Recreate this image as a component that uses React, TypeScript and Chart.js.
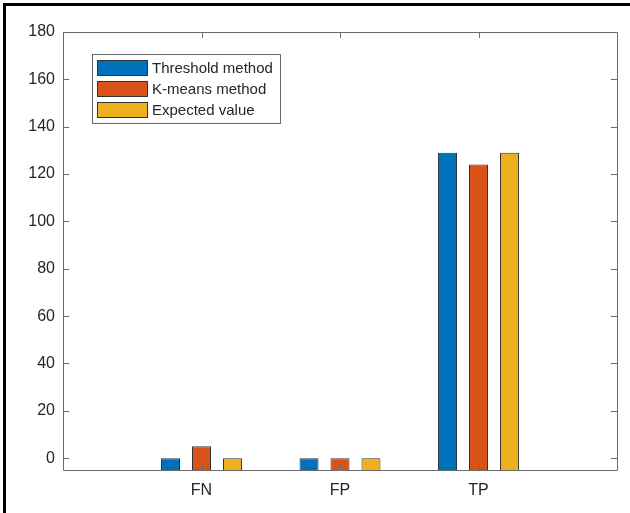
import React, { useEffect, useRef } from "react";
import { Chart, registerables } from "chart.js";

Chart.register(...registerables);

const categories = ["", "FN", "FP", "TP", ""];
const seriesNames = ["Threshold method", "K-means method", "Expected value"];
const thresholdValues = [null, 0, 0, 129, null];
const kmeansValues = [null, 5, 0, 124, null];
const expectedValues = [null, 0, 0, 129, null];
const seriesColors = ["#0072BD", "#D95319", "#EDB120"];
const yTicks = [0, 20, 40, 60, 80, 100, 120, 140, 160, 180];
const yMin = -5;
const yMax = 180;

const FONT = "'Liberation Sans', Arial, Helvetica, sans-serif";
const AXIS_COLOR = "#6a6a6a";
const TEXT_COLOR = "#262626";
const EDGE_COLOR = "#333333";

const framePlugin = {
  id: "frame",
  beforeDraw(chart: any) {
    const ctx = chart.ctx;
    ctx.save();
    ctx.fillStyle = "#ffffff";
    ctx.fillRect(0, 0, chart.width, chart.height);
    ctx.fillStyle = "#000000";
    ctx.fillRect(3, 3, chart.width - 3, 3);
    ctx.fillRect(3, 3, 3, chart.height - 3);
    ctx.restore();
  },
  afterDatasetsDraw(chart: any) {
    const ctx = chart.ctx;
    const { left, right, top, bottom } = chart.chartArea;
    const xs = chart.scales.x;
    const ys = chart.scales.y;
    const tl = 6;
    ctx.save();
    ctx.strokeStyle = AXIS_COLOR;
    ctx.lineWidth = 1;
    ctx.beginPath();
    ctx.rect(Math.round(left) + 0.5, Math.round(top) + 0.5, Math.round(right - left), Math.round(bottom - top));
    ctx.stroke();
    ctx.beginPath();
    yTicks.forEach((v) => {
      const y = Math.round(ys.getPixelForValue(v)) + 0.5;
      ctx.moveTo(left, y);
      ctx.lineTo(left + tl, y);
      ctx.moveTo(right, y);
      ctx.lineTo(right - tl, y);
    });
    categories.forEach((c, i) => {
      if (!c) return;
      const x = Math.round(xs.getPixelForValue(i)) + 0.5;
      ctx.moveTo(x, bottom);
      ctx.lineTo(x, bottom - tl);
      ctx.moveTo(x, top);
      ctx.lineTo(x, top + tl);
    });
    ctx.stroke();

    // legend
    const bx = left + 29;
    const by = top + 22;
    const bw = 188;
    const bh = 69;
    ctx.fillStyle = "#ffffff";
    ctx.fillRect(bx, by, bw, bh);
    ctx.strokeStyle = AXIS_COLOR;
    ctx.strokeRect(bx + 0.5, by + 0.5, bw, bh);
    ctx.font = `15px ${FONT}`;
    ctx.textBaseline = "middle";
    ctx.textAlign = "left";
    chart.data.datasets.forEach((ds: any, i: number) => {
      const py = by + 6 + i * 21;
      ctx.fillStyle = ds.backgroundColor;
      ctx.fillRect(bx + 5, py, 51, 16);
      ctx.strokeStyle = EDGE_COLOR;
      ctx.strokeRect(bx + 5.5, py + 0.5, 50, 15);
      ctx.fillStyle = TEXT_COLOR;
      ctx.fillText(ds.label, bx + 60, py + 8.5);
    });
    ctx.restore();
  },
};

export default function App() {
  const ref = useRef<HTMLCanvasElement | null>(null);
  useEffect(() => {
    document.body.style.margin = "0";
    const canvas = ref.current!;
    const values = [thresholdValues, kmeansValues, expectedValues];
    const chart = new Chart(canvas, {
      type: "bar",
      data: {
        labels: categories,
        datasets: seriesNames.map((name, i) => ({
          label: name,
          data: values[i],
          backgroundColor: seriesColors[i],
          borderColor: EDGE_COLOR,
          borderWidth: 1,
          borderSkipped: "start",
          base: yMin,
          categoryPercentage: 0.671,
          barPercentage: 0.613,
        })) as any,
      },
      options: {
        responsive: false,
        animation: false,
        events: [],
        layout: { padding: { left: 8, top: 32, right: 13, bottom: 0 } },
        plugins: { legend: { display: false }, tooltip: { enabled: false } },
        scales: {
          x: {
            type: "category",
            offset: false,
            grid: { display: false, drawTicks: false },
            border: { display: false },
            ticks: {
              autoSkip: false,
              maxRotation: 0,
              padding: 11,
              color: TEXT_COLOR,
              font: { family: FONT, size: 16 },
            },
            afterFit: (s: any) => {
              s.height = 43;
            },
          },
          y: {
            type: "linear",
            min: yMin,
            max: yMax,
            grid: { display: false, drawTicks: false },
            border: { display: false },
            ticks: {
              padding: 8,
              color: TEXT_COLOR,
              font: { family: FONT, size: 16 },
            },
            afterBuildTicks: (s: any) => {
              s.ticks = yTicks.map((v) => ({ value: v }));
            },
            afterFit: (s: any) => {
              s.width = 55;
            },
          },
        },
      },
      plugins: [framePlugin],
    });
    return () => chart.destroy();
  }, []);
  return <canvas ref={ref} width={630} height={513} style={{ display: "block" }} />;
}
